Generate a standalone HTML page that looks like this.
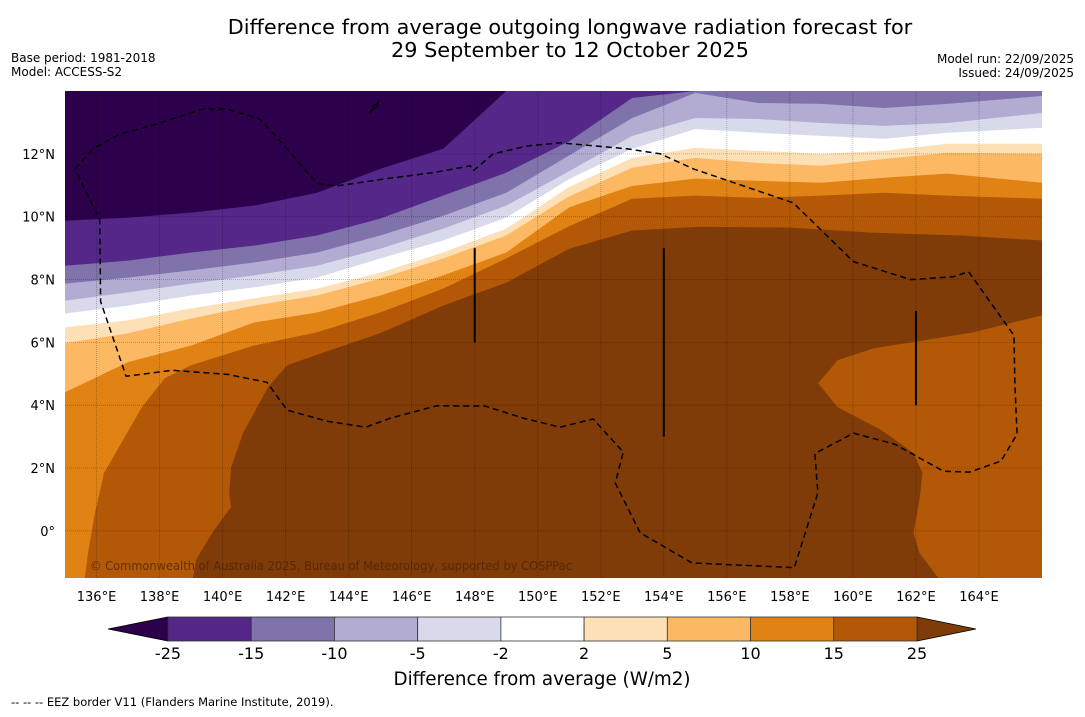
<!DOCTYPE html>
<html><head><meta charset="utf-8">
<style>
html,body{margin:0;padding:0;background:#fff;}
body{width:1085px;height:713px;overflow:hidden;font-family:"DejaVu Sans","Liberation Sans",sans-serif;}
svg text{font-family:"DejaVu Sans","Liberation Sans",sans-serif;}
</style></head>
<body>
<svg id="chart" width="1085" height="713" viewBox="0 0 1085 713" xmlns="http://www.w3.org/2000/svg">
  <text x="570" y="34" font-size="20.8" text-anchor="middle" fill="#000">Difference from average outgoing longwave radiation forecast for</text>
  <text x="570" y="57" font-size="20.8" text-anchor="middle" fill="#000">29 September to 12 October 2025</text>
  <text x="11" y="62" font-size="12" fill="#000">Base period: 1981-2018</text>
  <text x="11" y="76" font-size="12" fill="#000">Model: ACCESS-S2</text>
  <text x="1074" y="63" font-size="12" text-anchor="end" fill="#000">Model run: 22/09/2025</text>
  <text x="1074" y="77" font-size="12" text-anchor="end" fill="#000">Issued: 24/09/2025</text>
  <defs><clipPath id="mapclip"><rect x="65" y="91" width="977" height="487"/></clipPath></defs>
  <g id="map" clip-path="url(#mapclip)"></g>
  <g id="axes"></g>
  <g id="cbar"></g>
  <text x="542" y="685" font-size="18.3" text-anchor="middle" fill="#000">Difference from average (W/m2)</text>
  <text x="11" y="706" font-size="11.5" fill="#000">--  --  -- EEZ border V11 (Flanders Marine Institute, 2019).</text>
</svg>
<script>
// ---- data ----
const levels = [-25, -15, -10, -5, -2, 2, 5, 10, 15, 25];
const colors = ["#2d004b","#542788","#8073ac","#b2abd2","#d8daeb","#ffffff","#fee0b6","#fdb863","#e08214","#b35806","#7f3b08"];
const colLons = [135,137,139,141,143,145,147,149,151,153,155,157,159,161,163,166];
const latM25 = [9.87,9.97,10.13,10.35,10.76,11.52,12.16,14,14,14,14,14,14,14,14,14];
const latM15 = [8.44,8.60,8.86,9.08,9.40,9.94,10.67,11.40,12.4,13.78,14,14,14,14,14,14];
const latM10 = [7.87,8.06,8.29,8.54,8.86,9.40,10.03,10.76,11.95,13.14,13.94,13.62,13.59,13.46,13.59,13.84];
const latM5  = [7.33,7.59,7.87,8.13,8.44,8.98,9.62,10.35,11.45,12.57,13.14,13.11,12.98,12.89,12.98,13.30];
const latM2  = [6.92,7.17,7.49,7.75,8.06,8.67,9.24,9.97,11.2,12.16,12.79,12.67,12.57,12.48,12.67,12.83];
const latP2  = [6.48,6.70,7.08,7.40,7.71,8.22,8.86,9.62,10.95,11.87,12.19,12.10,12.00,12.10,12.32,12.32];
const latP5  = [5.97,6.29,6.76,7.17,7.49,8.03,8.67,9.40,10.65,11.56,11.87,11.71,11.62,11.84,12.03,12.00];
const latP10 = [4.41,5.37,5.90,6.63,6.95,7.49,8.13,8.86,10.3,10.98,11.21,11.14,11.08,11.24,11.37,11.08];
const c15Lon = [135.63,135.73,135.95,136.24,136.84,137.44,138.17,139,141,143,145,147,149,151,153,155,157,159,161,163,166];
const c15Lat = [-1.5,-0.70,0.57,1.84,2.89,3.94,4.86,5.27,5.90,6.32,6.95,7.71,8.67,9.7,10.57,10.67,10.60,10.67,10.76,10.67,10.57];
const c25Lon = [139.06,139.16,139.67,140.27,140.21,140.27,140.65,141.44,142.05,143.41,145,147,149,151,153,155.16,158.02,160.65,163.41,166,166,163.83,160.65,159.51,158.90,159.51,160.90,161.92,162.21,162.11,161.92,162.11,162.71];
const c25Lat = [-1.5,-0.92,-0.06,0.76,1.21,2.03,3.11,4.57,5.27,5.75,6.29,7.17,7.90,8.98,9.56,9.68,9.65,9.49,9.40,9.24,6.86,6.32,5.81,5.43,4.70,3.94,3.21,2.48,1.84,0.98,-0.06,-0.70,-1.5];
const xTicks = [136,138,140,142,144,146,148,150,152,154,156,158,160,162,164];
const yTicks = [0,2,4,6,8,10,12];
const eezLon = [135.32,135.89,136.75,138.02,139.38,140.14,141.19,142.24,143,143.63,145.41,146.68,147.86,147.95,148.59,149.67,150.71,152.83,153.89,154.94,158.11,160.02,161.83,163.19,163.67,165.11,165.14,165.21,165.21,164.70,163.70,162.87,161.33,160.02,158.79,158.89,158.14,154.89,153.25,152.46,152.71,151.76,150.71,149.54,148.33,146.79,145.33,144.54,143.32,142.05,141.41,140.16,138.40,136.94,136.13,136.1,135.32];
const eezLat = [11.52,12.16,12.63,12.98,13.43,13.43,13.11,11.94,11.05,10.98,11.24,11.40,11.62,11.46,12.00,12.25,12.35,12.16,12.00,11.52,10.44,8.57,7.997,8.09,8.25,6.22,4.63,3.08,3.08,2.22,1.87,1.90,2.76,3.11,2.46,1.21,-1.17,-1.02,-0.06,1.52,2.51,3.56,3.30,3.59,3.97,3.98,3.59,3.30,3.49,3.84,4.73,4.98,5.11,4.92,7.30,9.90,11.52];
const cpLon = [148, 154, 162];
const cpTop = [9, 9, 7];
const cpBot = [6, 3, 4];

// ---- axes functions ----
const X0=65, Y0=91, W=977, H=487, LON0=135, LON1=166, LAT0=-1.5, LAT1=14;
function xs(lon){return X0+(lon-LON0)/(LON1-LON0)*W;}
function ys(lat){return Y0+(LAT1-lat)/(LAT1-LAT0)*H;}
const NS="http://www.w3.org/2000/svg";
function mk(tag,attrs,parent){const e=document.createElementNS(NS,tag);for(const k in attrs)e.setAttribute(k,attrs[k]);parent.appendChild(e);return e;}
const map=document.getElementById('map');
const axes=document.getElementById('axes');
const cbar=document.getElementById('cbar');

const bg=mk('rect',{x:X0,y:Y0,width:W,height:H,fill:colors[0]},map);



const colLats=[latM25,latM15,latM10,latM5,latM2,latP2,latP5,latP10];
colLats.forEach((arr,i)=>{
  let pts=colLons.map((lo,j)=>xs(lo)+','+ys(arr[j]));
  pts.push(xs(LON1)+','+ys(LAT0)); pts.push(xs(LON0)+','+ys(LAT0));
  const p=mk('polygon',{points:pts.join(' '),fill:colors[i+1]},map);
  
  
});
{
  let pts=c15Lon.map((lo,j)=>xs(lo)+','+ys(c15Lat[j]));
  pts.push(xs(LON1)+','+ys(LAT0));
  const p=mk('polygon',{points:pts.join(' '),fill:colors[9]},map);
  
  
}
{
  let pts=c25Lon.map((lo,j)=>xs(lo)+','+ys(c25Lat[j]));
  pts.push(xs(LON0+4)+','+ys(LAT0));
  const p=mk('polygon',{points:pts.join(' '),fill:colors[10]},map);
  
  
}
xTicks.forEach(t=>{
  const l=mk('line',{x1:xs(t),x2:xs(t),y1:Y0,y2:Y0+H,stroke:'#000','stroke-opacity':0.3,'stroke-width':0.8,'stroke-dasharray':'1,1'},map);
  
  
});
yTicks.forEach(t=>{
  const l=mk('line',{x1:X0,x2:X0+W,y1:ys(t),y2:ys(t),stroke:'#000','stroke-opacity':0.3,'stroke-width':0.8,'stroke-dasharray':'1,1'},map);
  
  
});
{
  const d=eezLon.map((lo,j)=>(j?'L':'M')+xs(lo).toFixed(1)+','+ys(eezLat[j]).toFixed(1)).join(' ');
  const p=mk('path',{d:d,fill:'none',stroke:'#000','stroke-width':1.5,'stroke-dasharray':'6,4','stroke-linejoin':'round'},map);
  
  
}
cpLon.forEach((lo,j)=>{
  const l=mk('line',{x1:xs(lo),x2:xs(lo),y1:ys(cpTop[j]),y2:ys(cpBot[j]),stroke:'#000','stroke-width':2},map);
  
  
});
const guam=mk('path',{d:'M370,113 L373,106 L377,103 L379,101 L377,106 L373,110 Z',fill:'none',stroke:'#000','stroke-width':1},map);


const copy=mk('text',{x:90,y:570,'font-size':12,fill:'#4a2306','fill-opacity':0.75,textLength:482,lengthAdjust:'spacingAndGlyphs'},map);
copy.textContent='© Commonwealth of Australia 2025, Bureau of Meteorology, supported by COSPPac';



xTicks.forEach(t=>{
  const tx=mk('text',{x:xs(t),y:601,'font-size':13,'text-anchor':'middle',fill:'#000'},axes);
  tx.textContent=t+'°E';
  
  
});
yTicks.forEach(t=>{
  const tx=mk('text',{x:55,y:ys(t)+5,'font-size':13,'text-anchor':'end',fill:'#000'},axes);
  tx.textContent=t===0?'0°':t+'°N';
  
  
});

const CB0=168, CB1=917, CBY=617, CBH=24;
function cx(i){return CB0+i*(CB1-CB0)/(levels.length-1);}
{
  const t=mk('polygon',{points:`108,629 ${CB0},${CBY} ${CB0},${CBY+CBH}`,fill:colors[0],stroke:'#000','stroke-width':0.8},cbar);
  
  
  const t2=mk('polygon',{points:`976,629 ${CB1},${CBY} ${CB1},${CBY+CBH}`,fill:colors[10],stroke:'#000','stroke-width':0.8},cbar);
  
  
}
for(let i=0;i<levels.length-1;i++){
  const r=mk('rect',{x:cx(i),y:CBY,width:cx(i+1)-cx(i),height:CBH,fill:colors[i+1],stroke:'#333','stroke-width':0.8},cbar);
  
  
}
levels.forEach((v,i)=>{
  const tx=mk('text',{x:cx(i),y:659,'font-size':16,'text-anchor':'middle',fill:'#000'},cbar);
  tx.textContent=v;
  
  
});
</script>
</body></html>
